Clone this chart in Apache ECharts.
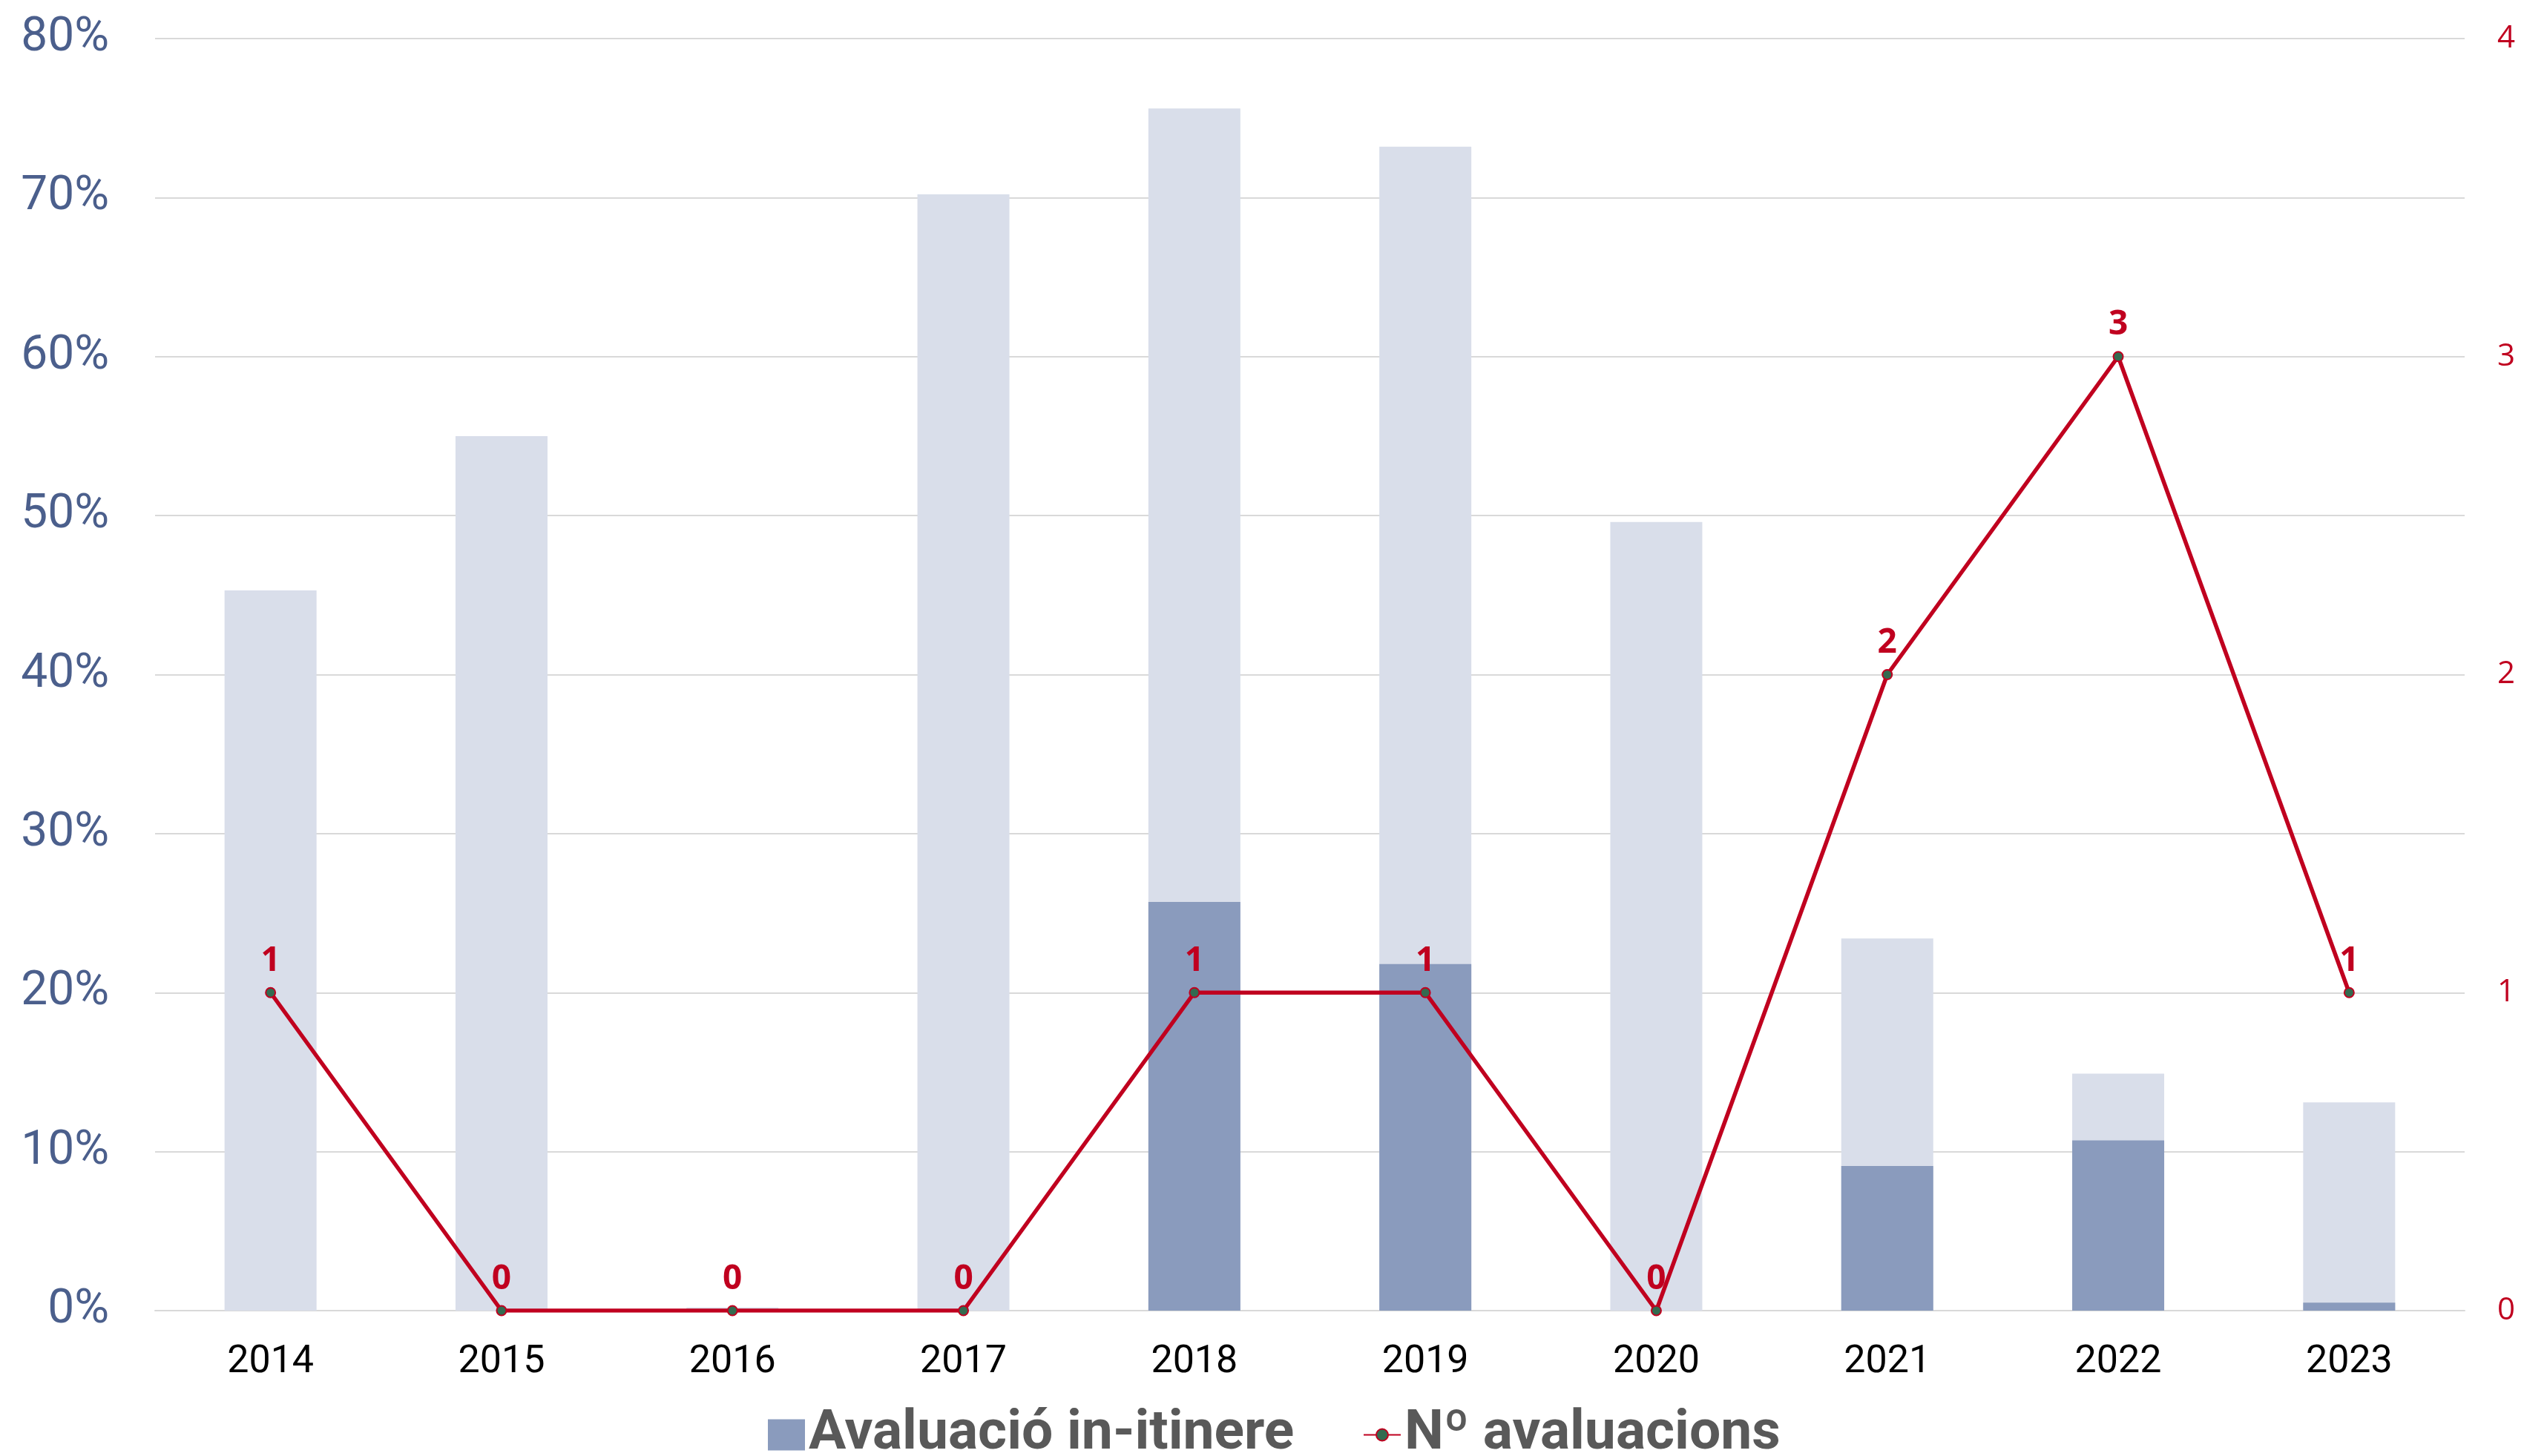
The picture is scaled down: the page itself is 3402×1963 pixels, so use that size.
<!DOCTYPE html>
<html>
<head>
<meta charset="utf-8">
<script src="https://cdn.jsdelivr.net/npm/echarts@6/dist/echarts.min.js"></script>
<style>
html,body{margin:0;padding:0;background:#fff;}
#c{width:3402px;height:1963px;}
</style>
</head>
<body>
<div id="c"></div>
<script>
const years = ['2014','2015','2016','2017','2018','2019','2020','2021','2022','2023'];
const totalPct = [45.3, 55.0, 0.2, 70.2, 75.6, 73.2, 49.6, 23.4, 14.9, 13.1];
const inItinerePct = [0, 0, 0, 0, 25.7, 21.8, 0, 9.1, 10.7, 0.5];
const numAvaluacions = [1, 0, 0, 0, 1, 1, 0, 2, 3, 1];
const leftTicks = [0, 10, 20, 30, 40, 50, 60, 70, 80];
const rightTicks = [0, 1, 2, 3, 4];

const legendText = {fontFamily: 'Roboto', fontWeight: 'bold', fontSize: 75, color: '#595959'};
const chart = echarts.init(document.getElementById('c'));
chart.setOption({
  animation: false,
  backgroundColor: '#ffffff',
  grid: {left: 209, right: 80, top: 52, bottom: 196, containLabel: false},
  legend: [
    {
      data: [{name: 'Avaluació in-itinere', icon: 'rect'}],
      left: 1030, top: 1892,
      itemWidth: 50, itemHeight: 42,
      textStyle: legendText
    },
    {
      data: [{name: 'Nº avaluacions'}],
      left: 1832, top: 1892,
      itemWidth: 50, itemHeight: 20,
      textStyle: legendText
    }
  ],
  xAxis: {
    type: 'category',
    data: years,
    axisLine: {show: true, lineStyle: {color: '#D9D9D9', width: 2}},
    axisTick: {show: false},
    axisLabel: {fontFamily: 'Roboto', fontSize: 52, color: '#000000', margin: 44}
  },
  yAxis: [
    {
      type: 'value', min: leftTicks[0], max: leftTicks[leftTicks.length - 1], interval: 10,
      axisLine: {show: false}, axisTick: {show: false},
      splitLine: {lineStyle: {color: '#D9D9D9', width: 2}},
      axisLabel: {fontFamily: 'Roboto', fontSize: 64, color: '#4B5F8C', margin: 62, formatter: '{value}%'}
    },
    {
      type: 'value', min: rightTicks[0], max: rightTicks[rightTicks.length - 1], interval: 1,
      position: 'right',
      axisLine: {show: false}, axisTick: {show: false},
      splitLine: {show: false},
      axisLabel: {fontFamily: 'Open Sans', fontSize: 42, color: '#C0001F', margin: 44}
    }
  ],
  series: [
    {
      name: 'Total',
      type: 'bar',
      data: totalPct,
      barWidth: 124,
      barGap: '-100%',
      itemStyle: {color: '#D9DEEA'},
      z: 1
    },
    {
      name: 'Avaluació in-itinere',
      type: 'bar',
      data: inItinerePct,
      barWidth: 124,
      barGap: '-100%',
      itemStyle: {color: '#8A9BBD'},
      z: 2
    },
    {
      name: 'Nº avaluacions',
      type: 'line',
      yAxisIndex: 1,
      data: numAvaluacions,
      symbol: 'circle',
      symbolSize: 13,
      lineStyle: {color: '#C0001F', width: 5.5},
      itemStyle: {color: '#336B50', borderColor: '#C0001F', borderWidth: 2},
      label: {show: true, position: 'top', distance: 12, fontFamily: 'Open Sans', fontWeight: 'bold', fontSize: 46, color: '#C0001F'},
      z: 5
    }
  ]
});
</script>
</body>
</html>
